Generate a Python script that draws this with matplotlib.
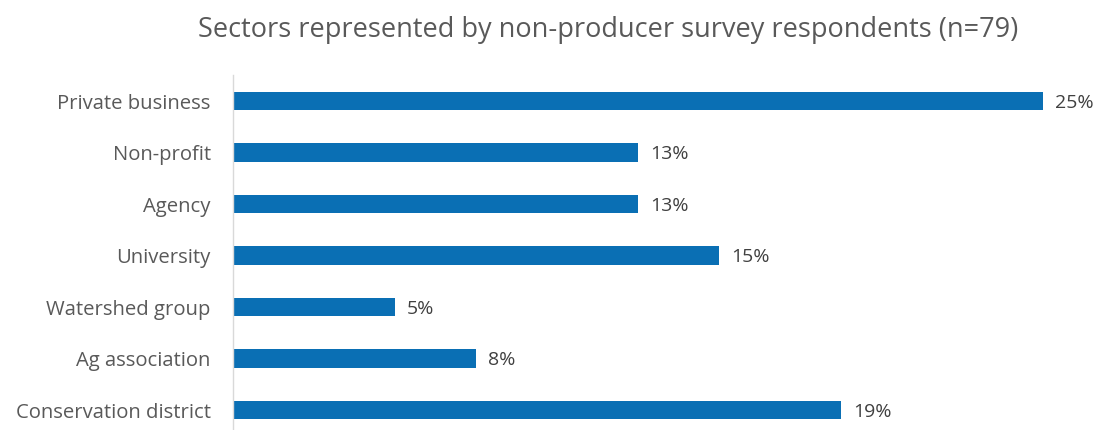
import matplotlib.pyplot as plt

# survey counts out of n respondents
n_total = 79
sectors = ['Private business', 'Non-profit', 'Agency', 'University',
           'Watershed group', 'Ag association', 'Conservation district']
counts = [20, 10, 10, 12, 4, 6, 15]

pcts = [c / n_total * 100 for c in counts]

plt.rcParams['font.family'] = ['Open Sans', 'DejaVu Sans']

fig = plt.figure(figsize=(11, 4.3), dpi=100)
ax = fig.add_axes([233 / 1100, -5.75 / 430, (1090 - 233) / 1100, 360.5 / 430])

ypos = list(range(len(sectors)))
ax.barh(ypos, pcts, height=0.35, color='#0a6fb4')
ax.set_ylim(len(sectors) - 0.5, -0.5)
ax.set_xlim(0, (1090 - 233) / 32.0)

for y, p in zip(ypos, pcts):
    ax.text(p + 0.38, y + 0.03, f'{p:.0f}%', va='center', ha='left',
            fontsize=14, color='#404040')

ax.set_yticks(ypos)
ax.set_yticklabels(sectors, fontsize=14.6, color='#595959')
ax.tick_params(axis='y', length=0, pad=16)
ax.set_xticks([])

for side in ['top', 'right', 'bottom']:
    ax.spines[side].set_visible(False)
ax.spines['left'].set_color('#d9d9d9')
ax.spines['left'].set_linewidth(1.0)

fig.text(0.553, 0.93, 'Sectors represented by non-producer survey respondents (n=79)',
         ha='center', va='center', fontsize=19.5, color='#595959')

fig.savefig('out.png', dpi=100)
